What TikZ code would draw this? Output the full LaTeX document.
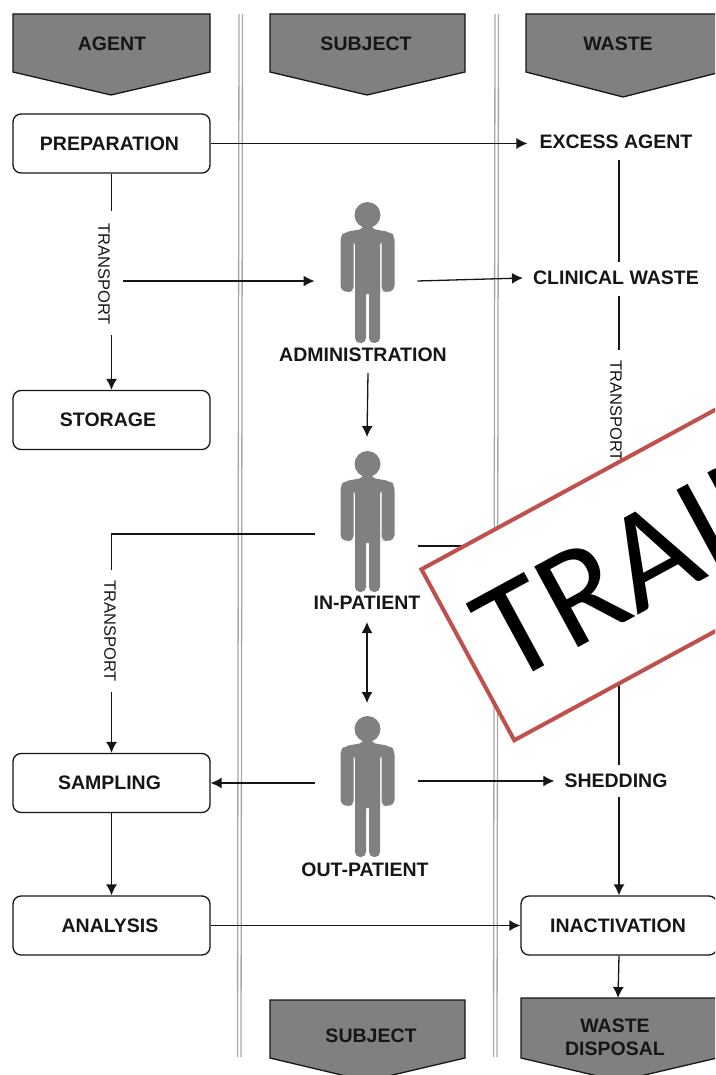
\documentclass[tikz,border=0pt]{standalone}
\usepackage{fontspec}
\setmainfont{Liberation Sans}
\newfontfamily\bannerfont{Carlito}
\usetikzlibrary{arrows.meta}
\definecolor{ink}{HTML}{161616}
\definecolor{headgrey}{HTML}{808080}
\definecolor{lanegrey}{HTML}{A8A8A8}
\definecolor{bannerred}{HTML}{C0504D}
\tikzset{
  every node/.style={text=ink},
  boldtxt/.style={font=\fontsize{19.5}{23}\selectfont\bfseries,align=center,inner sep=0pt},
  box/.style={draw=ink,line width=1.3pt,rounded corners=8pt,fill=white,minimum height=59pt,anchor=center,boldtxt},
  lab/.style={boldtxt,inner xsep=10pt,inner ysep=0pt},
  trans/.style={font=\fontsize{16.5}{20}\selectfont,rotate=-90,inner sep=0pt},
  conn/.style={draw=ink,line width=1.3pt},
  arr/.style={conn,-{Latex[length=11pt,width=11pt]}},
  darr/.style={conn,{Latex[length=11pt,width=11pt]}-{Latex[length=11pt,width=11pt]}},
  lane/.style={draw=lanegrey,line width=1.3pt},
  header/.style={draw=ink,line width=1.3pt,fill=headgrey,line join=miter},
  personbox/.style={minimum width=103pt,inner sep=0pt,outer sep=0pt},
  pics/person/.style={code={
    \fill[headgrey] (0,-13) circle[radius=13];
    % neck, shoulders and torso
    \fill[headgrey,rounded corners=3pt] (-5,-2) -- (5,-2) -- (5,1) -- (22,4) -- (22,14) -- (12.5,14) -- (12.5,66) -- (-12.5,66) -- (-12.5,14) -- (-22,14) -- (-22,4) -- (-5,1) -- cycle;
    % arms
    \fill[headgrey,rounded corners=5pt] (-27,63) -- (-27,8) -- (-23,4) -- (-14,4) -- (-14,64) -- (-18,64) -- cycle;
    \fill[headgrey,rounded corners=5pt] (27,63) -- (27,8) -- (23,4) -- (14,4) -- (14,64) -- (18,64) -- cycle;
    % legs
    \fill[headgrey,rounded corners=5pt] (-12.5,50) -- (-1.5,50) -- (-1.5,115) -- (-12.5,115) -- cycle;
    \fill[headgrey,rounded corners=5pt] (12.5,50) -- (1.5,50) -- (1.5,115) -- (12.5,115) -- cycle;
  }}
}
\begin{document}
\begin{tikzpicture}[x=1pt,y=-1pt]
\useasboundingbox (0,0) rectangle (715,1075);
\clip (0,0) rectangle (715,1075);
% lanes
\draw[lane] (239,14) -- (237.5,1057);
\draw[lane] (242.5,14) -- (241,1057);
\draw[lane] (495,14) -- (493.5,1057);
\draw[lane] (498.5,14) -- (497,1057);
% headers
\draw[header] (13,14) -- (210,14) -- (210,72) -- (111,95) -- (13,72) -- cycle;
\draw[header] (270,14) -- (465,14) -- (465,72) -- (367,95) -- (270,72) -- cycle;
\draw[header] (526,14) -- (721,14) -- (721,72) -- (623,97) -- (526,72) -- cycle;
\draw[header] (270,1000) -- (465,1000) -- (465,1058) -- (367,1081) -- (270,1058) -- cycle;
\draw[header] (521,998) -- (717,998) -- (717,1058) -- (619,1081) -- (521,1058) -- cycle;
\node[boldtxt] (hagent) at (112,44) {AGENT};
\node[boldtxt] (hsubject) at (366,44) {SUBJECT};
\node[boldtxt] (hwaste) at (618,44) {WASTE};
\node[boldtxt] (fsubject) at (371,1036) {SUBJECT};
\node[boldtxt] (fwaste) at (615,1037) {WASTE\\DISPOSAL};
\coordinate (fwastetop) at (618,998);
% boxes
\node[box,minimum width=197pt] (prep) at (111.5,143.5) {\hspace*{-4pt}PREPARATION};
\node[box,minimum width=197pt] (storage) at (111.5,420) {\hspace*{-7pt}STORAGE};
\node[box,minimum width=197pt] (sampling) at (111.5,783) {\hspace*{-4pt}SAMPLING};
\node[box,minimum width=197pt] (analysis) at (111.5,925.5) {\raisebox{-1.5pt}{\hspace*{-3pt}ANALYSIS}};
\node[box,minimum width=196pt] (inact) at (619,925.5) {\raisebox{-1.5pt}{\hspace*{-2pt}INACTIVATION}};
% waste labels
\node[lab,inner xsep=12pt] (excess) at (616,142) {EXCESS AGENT};
\node[lab] (clinical) at (616,278) {CLINICAL WASTE};
\node[lab] (shedding) at (616,781) {SHEDDING};
% persons
\pic at (367.5,228) {person};
\pic at (367.5,477) {person};
\pic at (367.5,742) {person};
\node[personbox,minimum height=1pt] (p1) at (366,281) {};
\node[personbox,minimum height=12pt] (p2) at (366,540) {};
\node[personbox,minimum height=2pt] (p3) at (366,782) {};
\node[boldtxt] (adm) at (363,355) {ADMINISTRATION};
\node[boldtxt] (inp) at (367,603) {IN-PATIENT};
\node[boldtxt] (outp) at (365,870) {OUT-PATIENT};
% transport labels
\node[trans] (t1) at (104,274) {TRANSPORT};
\node[trans] (t2) at (110,631) {TRANSPORT};
\node[trans] (t3) at (616,411) {TRANSPORT};
\coordinate (t1a) at (111.5,211);
\coordinate (t1b) at (111.5,335);
\coordinate (t2a) at (111.5,570);
\coordinate (t2b) at (111.5,692);
\coordinate (t3a) at (619,350);
\coordinate (t3b) at (619,470);
\coordinate (xa) at (619,160);
\coordinate (xb) at (619,262);
\coordinate (ca) at (619,296);
\coordinate (sa) at (619,765);
\coordinate (sb) at (619,797);
\coordinate (ta) at (123,281);
\coordinate (admb) at (368,373);
\coordinate (p2top) at (367,437);
\coordinate (inpb) at (367,622);
\coordinate (outt) at (367,703);
\coordinate (hid) at (480,546);
% connectors
\draw[arr] (prep.east) -- (prep.east -| excess.west);
\draw[conn] (prep.south) -- (t1a);
\draw[arr] (t1b) -- (storage.north);
\draw[arr] (ta) -- (p1.west);
\draw[arr] (p1.east) -- (clinical.west);
\draw[conn] (xa) -- (xb);
\draw[conn] (ca) -- (t3a);
\draw[conn] (t3b) -- (sa);
\draw[arr] (sb) -- (inact.north);
\draw[arr] (admb) -- (p2top);
\draw[conn] (p2.north west) -| (t2a);
\draw[arr] (t2b) -- (sampling.north);
\draw[conn] (p2.south east) -- (hid);
\draw[darr] (inpb) -- (outt);
\draw[arr] (p3.south west) -- (sampling.east);
\draw[arr] (p3.north east) -- (p3.north east -| shedding.west);
\draw[arr] (sampling.south) -- (analysis.north);
\draw[arr] (analysis.east) -- (inact.west);
\draw[arr] (inact.south) -- (fwastetop);
% banner
\node[draw=bannerred,line width=4pt,fill=white,rotate=28.5,anchor=south west,minimum height=194.6pt,minimum width=520pt,inner sep=0pt] (banner) at (513.5,743) {};
\node[rotate=28.5,anchor=base west,inner sep=0pt,text=black,font=\bannerfont\fontsize{143}{143}\selectfont] (bannertxt) at (508,686) {TRAIN};
\end{tikzpicture}
\end{document}
